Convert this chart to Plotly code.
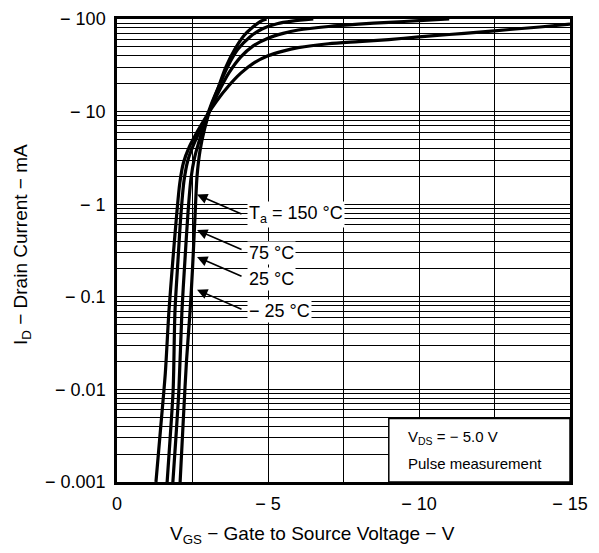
import math
import plotly.graph_objects as go

# Gate-source voltage magnitude (V) and drain current magnitude (mA) per ambient temperature
temps = ["150 °C", "75 °C", "25 °C", "−25 °C"]

v_150 = [1.29, 1.45, 1.6, 1.72, 1.85, 1.98, 2.08, 2.2, 2.4, 2.65, 2.95, 3.3, 3.7, 4.1, 4.5, 5.0, 5.5, 6.0, 7.0, 8.0, 9.0, 10.0, 11.0, 12.0, 13.0, 14.0, 15.0]
i_150 = [0.001, 0.004, 0.015, 0.07, 0.25, 0.8, 1.7, 2.8, 4.2, 6.0, 8.8, 13, 19, 26, 33, 40, 45, 49, 54, 57, 60, 64, 68, 72, 77, 82, 88]

v_75 = [1.66, 1.76, 1.86, 1.92, 2.02, 2.12, 2.22, 2.35, 2.55, 2.8, 3.05, 3.35, 3.7, 4.1, 4.5, 5.0, 5.5, 6.0, 7.0, 8.0, 9.0, 10.0, 11.0]
i_75 = [0.001, 0.003, 0.01, 0.07, 0.25, 0.8, 1.8, 3.0, 4.5, 6.8, 10, 16, 26, 39, 51, 62, 70, 76, 83, 88, 92, 96, 100]

v_25 = [1.85, 1.95, 2.05, 2.15, 2.25, 2.35, 2.45, 2.57, 2.72, 2.9, 3.1, 3.35, 3.65, 4.0, 4.4, 4.8, 5.3, 5.8, 6.5]
i_25 = [0.001, 0.003, 0.01, 0.07, 0.25, 0.8, 1.9, 3.2, 4.8, 7.5, 11.5, 18, 30, 47, 64, 78, 89, 95, 100]

v_m25 = [2.09, 2.2, 2.3, 2.42, 2.5, 2.58, 2.65, 2.75, 2.9, 3.1, 3.35, 3.6, 3.9, 4.2, 4.5, 4.75, 4.95]
i_m25 = [0.001, 0.005, 0.02, 0.07, 0.2, 0.7, 2.0, 3.8, 6.5, 11, 18, 30, 47, 66, 82, 94, 100]

x_tickvals = [0, 5, 10, 15]
x_ticktext = ["0", "− 5", "− 10", "− 15"]
y_tickvals = [0.001, 0.01, 0.1, 1, 10, 100]
y_ticktext = ["− 0.001", "− 0.01", "− 0.1", "− 1", "− 10", "− 100"]

FONT = "Liberation Sans"

fig = go.Figure()
for v, i in [(v_150, i_150), (v_75, i_75), (v_25, i_25), (v_m25, i_m25)]:
    fig.add_trace(go.Scatter(x=v, y=i, mode="lines",
                             line=dict(color="black", width=3.2, shape="spline", smoothing=0.8),
                             showlegend=False, hoverinfo="skip"))

# label arrows: (tip voltage, tip current, text, text current)
labels = [
    (2.65, 1.27, "T<sub>a</sub> = 150 °C", 0.78),
    (2.65, 0.525, "75 °C", 0.297),
    (2.65, 0.269, "25 °C", 0.157),
    (2.65, 0.119, "− 25 °C", 0.0695),
]
for tipv, tipi, txt, texti in labels:
    fig.add_annotation(x=tipv, y=math.log10(tipi), xref="x", yref="y", text="", showarrow=True,
                       ax=46, ay=20, axref="pixel", ayref="pixel", arrowhead=2, arrowsize=1.3,
                       arrowwidth=1.6, arrowcolor="black", standoff=0)
    fig.add_annotation(x=4.3, y=math.log10(texti), xref="x", yref="y", text=txt, showarrow=False,
                       xanchor="left", yanchor="middle", bgcolor="white", borderpad=1,
                       font=dict(family=FONT, size=18, color="black"))

# condition box
fig.add_shape(type="rect", xref="paper", yref="paper", x0=0.6, x1=1.0, y0=0, y1=0.137,
              fillcolor="white", line=dict(color="black", width=1.5), layer="above")
fig.add_annotation(xref="paper", yref="paper", x=0.637, y=0.097, text="V<sub>DS</sub> = − 5.0 V",
                   showarrow=False, xanchor="left", yanchor="middle",
                   font=dict(family=FONT, size=15, color="black"))
fig.add_annotation(xref="paper", yref="paper", x=0.637, y=0.04, text="Pulse measurement",
                   showarrow=False, xanchor="left", yanchor="middle",
                   font=dict(family=FONT, size=15, color="black"))

# axis titles
fig.add_annotation(xref="paper", yref="paper", x=(312 - 117) / 453, y=-(535 - 482) / 463,
                   text="V<sub>GS</sub> − Gate to Source Voltage − V", showarrow=False,
                   xanchor="center", yanchor="middle", font=dict(family=FONT, size=19, color="black"))
fig.add_annotation(xref="paper", yref="paper", x=-(117 - 22) / 453, y=(482 - 245) / 463,
                   text="I<sub>D</sub> − Drain Current − mA", showarrow=False, textangle=-90,
                   xanchor="center", yanchor="middle", font=dict(family=FONT, size=19, color="black"))

fig.update_layout(
    width=591, height=545,
    margin=dict(l=109, r=29, t=11, b=71),
    paper_bgcolor="white", plot_bgcolor="white",
    font=dict(family=FONT, size=18, color="black"),
    xaxis=dict(range=[0, 15], tickvals=x_tickvals, ticktext=x_ticktext, showgrid=True,
               gridcolor="black", gridwidth=1.3, zeroline=False, showline=True, linecolor="black",
               linewidth=2.5, mirror=True, ticks="", ticklabelstandoff=4, automargin=False,
               ticklabeloverflow="allow",
               minor=dict(dtick=2.5, showgrid=True, gridcolor="black", gridwidth=1.3)),
    yaxis=dict(type="log", range=[-3, 2], tickvals=y_tickvals, ticktext=y_ticktext, showgrid=True,
               gridcolor="black", gridwidth=1.3, zeroline=False, showline=True, linecolor="black",
               linewidth=2.5, mirror=True, ticks="", ticklabelstandoff=5, automargin=False,
               ticklabeloverflow="allow",
               minor=dict(dtick="D1", showgrid=True, gridcolor="black", gridwidth=1.1)),
)

fig.write_html("out.html")
